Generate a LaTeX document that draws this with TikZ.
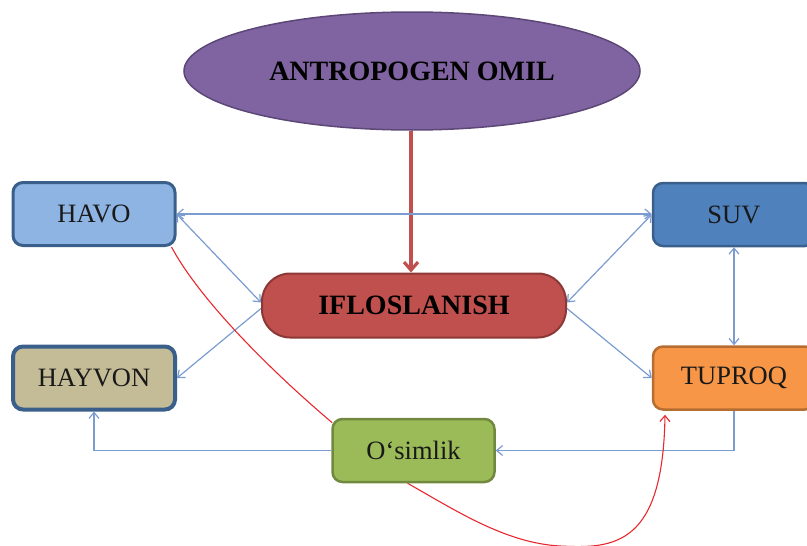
\documentclass[tikz,border=0pt]{standalone}
\usepackage{fontspec}
\setmainfont{Liberation Serif}
\usetikzlibrary{arrows.meta,shapes.geometric,backgrounds}
\definecolor{purpfill}{HTML}{8064A2}
\definecolor{purpline}{HTML}{5C4776}
\definecolor{redfill}{HTML}{C0504D}
\definecolor{redline}{HTML}{8C3836}
\definecolor{havofill}{HTML}{8DB4E2}
\definecolor{suvfill}{HTML}{4F81BD}
\definecolor{blueline}{HTML}{3A5F8B}
\definecolor{hayfill}{HTML}{C4BC96}
\definecolor{tupfill}{HTML}{F79646}
\definecolor{tupline}{HTML}{B66D31}
\definecolor{osfill}{HTML}{9BBB59}
\definecolor{osline}{HTML}{71893F}
\definecolor{conn}{HTML}{7B9CD0}
\definecolor{thinred}{HTML}{E8282E}
\begin{document}
\begin{tikzpicture}[x=1pt,y=-1pt,
  box/.style={draw, rounded corners=10pt, minimum width=162pt, minimum height=63pt,
    inner sep=0pt, line width=2.5pt, font=\fontsize{26.5}{28}\selectfont, text=black!90},
  link/.style={draw=conn, line width=1.2pt, -{Straight Barb[length=6pt,width=10pt]}},
  dlink/.style={draw=conn, line width=1.2pt, {Straight Barb[length=6pt,width=10pt]}-{Straight Barb[length=6pt,width=10pt]}},
  redcurve/.style={draw=thinred, line width=1.1pt}
]
\useasboundingbox (0,0) rectangle (807,546);
\clip (0,0) rectangle (807,546);

\node[ellipse, draw=purpline, fill=purpfill, line width=1.5pt, minimum width=456pt,
  minimum height=118pt, inner sep=0pt, font=\bfseries\fontsize{28}{30}\selectfont]
  (omil) at (412,71) {ANTROPOGEN OMIL};
\node[draw=redline, fill=redfill, rounded corners=28pt, minimum width=304pt,
  minimum height=64pt, inner sep=0pt, line width=2pt, font=\bfseries\fontsize{28}{30}\selectfont]
  (ifl) at (414,305.5) {IFLOSLANISH};
\node[box, fill=havofill, draw=blueline, line width=3pt] (havo) at (94,214) {HAVO};
\node[box, fill=suvfill, draw=blueline] (suv) at (734,214.5) {SUV};
\node[box, fill=hayfill, draw=blueline, line width=4pt] (hay) at (94,378) {HAYVON};
\node[box, fill=tupfill, draw=tupline] (tup) at (734,378) {TUPROQ};
\node[box, fill=osfill, draw=osline] (os) at (413.5,450.5) {O‘simlik};

\begin{scope}[on background layer]
  \draw[draw=redfill, line width=3.2pt, -{Straight Barb[length=8pt,width=14pt]}] ([xshift=-1pt]omil.south) -- ([xshift=-1pt]omil.south |- ifl.north);
  \draw[dlink] (havo.east) -- (suv.west |- havo.east);
  \draw[dlink] (havo.east) -- ([yshift=3pt]ifl.west);
  \draw[link] ([yshift=-3pt]ifl.west) -- (hay.east);
  \draw[dlink] (suv.west) -- ([yshift=3pt]ifl.east);
  \draw[link] ([yshift=-3pt]ifl.east) -- (tup.west);
  \draw[dlink] (suv.south) -- (tup.south |- tup.north);
  \draw[link] (tup.south) -- (tup.south |- os.east) -- (os.east);
  \draw[link] (os.west) -- (hay.south |- os.west) -- (hay.south);
  \draw[redcurve] ([xshift=-5pt]havo.south east) .. controls (200,300) and (270,370) .. ([xshift=1pt,yshift=-5pt]os.north west);
  \draw[redcurve, -{Straight Barb[length=6pt,width=10pt]}] ([xshift=-6pt]os.south)
    .. controls (455,510) and (505,543) .. (560,546)
    .. controls (615,549) and (663,545) .. ([xshift=-69pt,yshift=-4pt]tup.south);
\end{scope}
\end{tikzpicture}
\end{document}
